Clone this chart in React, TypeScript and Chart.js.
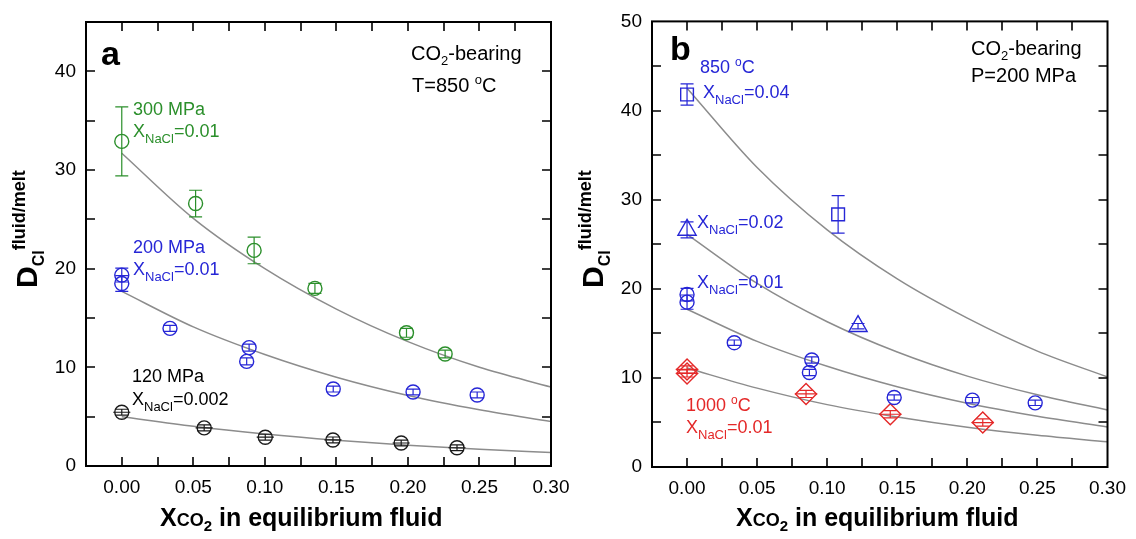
import React, { useEffect, useRef } from 'react';
import { Chart, registerables } from 'chart.js';

Chart.register(...registerables);

const FONT = '"Liberation Sans", Arial, Helvetica, sans-serif';
const GREEN = '#2b8f2b';
const BLUE = '#2626d6';
const RED = '#e42828';
const BLACK = '#1a1a1a';
const CURVE = '#8c8c8c';

// ---- axis ticks ----
const xTickLabels = [0, 0.05, 0.1, 0.15, 0.2, 0.25, 0.3];
const xTickMarks = [0, 0.025, 0.05, 0.075, 0.1, 0.125, 0.15, 0.175, 0.2, 0.225, 0.25, 0.275];
const yTickLabelsA = [0, 10, 20, 30, 40];
const yTickMarksA = [5, 10, 15, 20, 25, 30, 35, 40];
const yTickLabelsB = [0, 10, 20, 30, 40, 50];
const yTickMarksB = [5, 10, 15, 20, 25, 30, 35, 40, 45];

// ---- fitted curves ----
const fitX = [0, 0.05, 0.1, 0.15, 0.2, 0.25, 0.3];
const fitA300 = [31.7, 25.1, 20.0, 15.9, 12.6, 10.0, 8.0];
const fit200 = [17.7, 14.1, 11.3, 9.0, 7.15, 5.7, 4.5];
const fitA120 = [5.0, 4.02, 3.24, 2.61, 2.1, 1.69, 1.36];
const fitB04 = [42.5, 33.6, 26.6, 21.1, 16.7, 13.0, 10.1];
const fitB02 = [26.1, 20.6, 16.3, 12.9, 10.2, 8.1, 6.4];
const fitB1000 = [11.1, 8.85, 7.0, 5.6, 4.45, 3.55, 2.83];

// ---- measured points ----
const p300X = [0, 0.0516, 0.0925, 0.135, 0.199, 0.226];
const p300Y = [32.9, 26.6, 21.85, 18.0, 13.5, 11.35];
const p300Err = [3.5, 1.35, 1.35, 0.5, 0.45, 0.4];

const p200X = [0, 0, 0.0337, 0.089, 0.0873, 0.1478, 0.2036, 0.2484];
const p200Y = [19.35, 18.5, 13.95, 12.0, 10.6, 7.8, 7.5, 7.2];
const p200Err = [0.7, 0.8, 0.3, 0.35, 0.35, 0.3, 0.3, 0.3];

const p120X = [0, 0.0576, 0.1003, 0.1476, 0.1953, 0.2343];
const p120Y = [5.45, 3.86, 2.92, 2.64, 2.33, 1.85];
const p120Err = [0.3, 0.3, 0.3, 0.3, 0.3, 0.3];
const p120ErrX = [0.006, 0.006, 0.006, 0.006, 0.006, 0.006];

const p04X = [0, 0.1078];
const p04Y = [41.8, 28.35];
const p04Err = [1.2, 2.1];

const p02X = [0, 0.122];
const p02Y = [26.6, 15.8];
const p02Err = [0.9, 0.3];

const p1000X = [0, 0, 0.0849, 0.145, 0.211];
const p1000Y = [10.95, 10.5, 8.2, 5.92, 4.99];
const p1000Err = [0.4, 0.4, 0.4, 0.4, 0.4];
const p1000ErrX = [0.008, 0.008, 0.008, 0.008, 0.008];

const pts = (xs: number[], ys: number[]) => xs.map((x, i) => ({ x, y: ys[i] }));

type Seg = { t: string; s: number; b?: boolean; dy?: number };
type TextItem = { x: number; y: number; color: string; segs: Seg[]; rot?: boolean };

function drawRich(ctx: CanvasRenderingContext2D, item: TextItem) {
  ctx.save();
  ctx.fillStyle = item.color;
  ctx.textBaseline = 'alphabetic';
  ctx.textAlign = 'left';
  if (item.rot) {
    ctx.translate(item.x, item.y);
    ctx.rotate(-Math.PI / 2);
  }
  let cx = item.rot ? 0 : item.x;
  const by = item.rot ? 0 : item.y;
  for (const g of item.segs) {
    ctx.font = `${g.b ? 'bold ' : ''}${g.s}px ${FONT}`;
    ctx.fillText(g.t, cx, by + (g.dy || 0));
    cx += ctx.measureText(g.t).width;
  }
  ctx.restore();
}

const xnacl = (v: string): Seg[] => [
  { t: 'X', s: 18 },
  { t: 'NaCl', s: 13, dy: 6 },
  { t: '=' + v, s: 18 },
];
const deg = (v: string): Seg[] => [
  { t: v + ' ', s: 18 },
  { t: 'o', s: 12, dy: -7 },
  { t: 'C', s: 18 },
];

const yTitle = (x: number): TextItem => ({
  x,
  y: 288,
  rot: true,
  color: '#000',
  segs: [
    { t: 'D', s: 30, b: true },
    { t: 'Cl', s: 16, b: true, dy: 7 },
    { t: 'fluid/melt', s: 18, b: true, dy: -12 },
  ],
});
const xTitle = (x: number): TextItem => ({
  x,
  y: 526,
  color: '#000',
  segs: [
    { t: 'X', s: 25, b: true },
    { t: 'CO', s: 18, b: true },
    { t: '2', s: 15, b: true, dy: 5 },
    { t: ' in equilibrium fluid', s: 25, b: true },
  ],
});

const errorBarPlugin = {
  id: 'errbars',
  afterDatasetsDraw(chart: any) {
    const ctx: CanvasRenderingContext2D = chart.ctx;
    const xs = chart.scales.x;
    const ys = chart.scales.y;
    const cw = 6.5;
    chart.data.datasets.forEach((ds: any) => {
      if (!ds.errY && !ds.errX) return;
      ctx.save();
      ctx.strokeStyle = ds.borderColor;
      ctx.lineWidth = 1.2;
      ds.data.forEach((p: any, j: number) => {
        const px = xs.getPixelForValue(p.x);
        const py = ys.getPixelForValue(p.y);
        ctx.beginPath();
        const ey = ds.errY ? ds.errY[j] : 0;
        if (ey) {
          const t = ys.getPixelForValue(p.y + ey);
          const b = ys.getPixelForValue(p.y - ey);
          ctx.moveTo(px, t); ctx.lineTo(px, b);
          ctx.moveTo(px - cw, t); ctx.lineTo(px + cw, t);
          ctx.moveTo(px - cw, b); ctx.lineTo(px + cw, b);
        }
        const ex = ds.errX ? ds.errX[j] : 0;
        if (ex) {
          ctx.moveTo(xs.getPixelForValue(p.x - ex), py);
          ctx.lineTo(xs.getPixelForValue(p.x + ex), py);
        }
        ctx.stroke();
      });
      ctx.restore();
    });
  },
};

const makeFramePlugin = (yMarks: number[], items: TextItem[]) => ({
  id: 'frame',
  afterDraw(chart: any) {
    const ctx: CanvasRenderingContext2D = chart.ctx;
    const { left, right, top, bottom } = chart.chartArea;
    const xs = chart.scales.x;
    const ys = chart.scales.y;
    ctx.save();
    ctx.strokeStyle = '#000';
    ctx.lineWidth = 2;
    ctx.strokeRect(left, top, right - left, bottom - top);
    ctx.lineWidth = 1.6;
    const L = 9;
    ctx.beginPath();
    xTickMarks.forEach((v) => {
      const px = Math.round(xs.getPixelForValue(v));
      ctx.moveTo(px, bottom); ctx.lineTo(px, bottom - L);
      ctx.moveTo(px, top); ctx.lineTo(px, top + L);
    });
    yMarks.forEach((v) => {
      const py = Math.round(ys.getPixelForValue(v));
      ctx.moveTo(left, py); ctx.lineTo(left + L, py);
      ctx.moveTo(right, py); ctx.lineTo(right - L, py);
    });
    ctx.stroke();
    ctx.restore();
    items.forEach((it) => drawRich(ctx, it));
  },
});

const curve = (ys: number[]) => ({
  data: pts(fitX, ys),
  showLine: true,
  borderColor: CURVE,
  borderWidth: 1.5,
  pointRadius: 0,
  cubicInterpolationMode: 'monotone',
  fill: false,
});

const markers = (xs: number[], ys: number[], color: string, style: string, r: number, errY?: number[], errX?: number[]) => ({
  data: pts(xs, ys),
  showLine: false,
  borderColor: color,
  backgroundColor: 'rgba(0,0,0,0)',
  borderWidth: 1.4,
  pointStyle: style,
  pointRadius: r,
  errY,
  errX,
});

function buildConfig(opts: {
  datasets: any[];
  yMax: number;
  yLabels: number[];
  yMarks: number[];
  yAxisW: number;
  padRight: number;
  padTop: number;
  xAxisH: number;
  items: TextItem[];
}) {
  return {
    type: 'scatter',
    data: { datasets: opts.datasets },
    options: {
      animation: false,
      responsive: false,
      layout: { padding: { left: 0, right: opts.padRight, top: opts.padTop, bottom: 0 } },
      plugins: { legend: { display: false }, tooltip: { enabled: false } },
      scales: {
        x: {
          type: 'linear',
          min: -0.025,
          max: 0.3,
          grid: { display: false, drawTicks: false },
          border: { display: false },
          ticks: {
            font: { size: 19, family: FONT },
            color: '#000',
            padding: 10,
            maxRotation: 0,
            autoSkip: false,
            callback: (v: any) => Number(v).toFixed(2),
          },
          afterBuildTicks: (s: any) => {
            s.ticks = xTickLabels.map((v) => ({ value: v }));
          },
          afterFit: (s: any) => {
            s.height = opts.xAxisH;
          },
        },
        y: {
          type: 'linear',
          min: 0,
          max: opts.yMax,
          grid: { display: false, drawTicks: false },
          border: { display: false },
          ticks: {
            font: { size: 19, family: FONT },
            color: '#000',
            padding: 10,
            callback: (v: any) => String(Math.round(Number(v))),
          },
          afterBuildTicks: (s: any) => {
            s.ticks = opts.yLabels.map((v) => ({ value: v }));
          },
          afterFit: (s: any) => {
            s.width = opts.yAxisW;
          },
        },
      },
    },
    plugins: [errorBarPlugin, makeFramePlugin(opts.yMarks, opts.items)],
  } as any;
}

export default function App() {
  const refA = useRef<HTMLCanvasElement>(null);
  const refB = useRef<HTMLCanvasElement>(null);

  useEffect(() => {
    const itemsA: TextItem[] = [
      { x: 101, y: 65, color: '#000', segs: [{ t: 'a', s: 34, b: true }] },
      { x: 411, y: 60, color: '#000', segs: [{ t: 'CO', s: 20 }, { t: '2', s: 13, dy: 5 }, { t: '-bearing', s: 20 }] },
      { x: 412, y: 92, color: '#000', segs: [{ t: 'T=850 ', s: 20 }, { t: 'o', s: 13, dy: -8 }, { t: 'C', s: 20 }] },
      { x: 133, y: 115, color: GREEN, segs: [{ t: '300 MPa', s: 18 }] },
      { x: 133, y: 137, color: GREEN, segs: xnacl('0.01') },
      { x: 133, y: 253, color: BLUE, segs: [{ t: '200 MPa', s: 18 }] },
      { x: 133, y: 275, color: BLUE, segs: xnacl('0.01') },
      { x: 132, y: 382, color: '#000', segs: [{ t: '120 MPa', s: 18 }] },
      { x: 132, y: 405, color: '#000', segs: xnacl('0.002') },
      yTitle(37),
      xTitle(160),
    ];
    const itemsB: TextItem[] = [
      { x: 110, y: 60, color: '#000', segs: [{ t: 'b', s: 34, b: true }] },
      { x: 411, y: 55, color: '#000', segs: [{ t: 'CO', s: 20 }, { t: '2', s: 13, dy: 5 }, { t: '-bearing', s: 20 }] },
      { x: 411, y: 82, color: '#000', segs: [{ t: 'P=200 MPa', s: 20 }] },
      { x: 140, y: 73, color: BLUE, segs: deg('850') },
      { x: 143, y: 98, color: BLUE, segs: xnacl('0.04') },
      { x: 137, y: 228, color: BLUE, segs: xnacl('0.02') },
      { x: 137, y: 288, color: BLUE, segs: xnacl('0.01') },
      { x: 126, y: 411, color: RED, segs: deg('1000') },
      { x: 126, y: 433, color: RED, segs: xnacl('0.01') },
      yTitle(43),
      xTitle(176),
    ];

    const cfgA = buildConfig({
      datasets: [
        markers(p300X, p300Y, GREEN, 'circle', 7, p300Err),
        markers(p200X, p200Y, BLUE, 'circle', 7, p200Err),
        markers(p120X, p120Y, BLACK, 'circle', 7, p120Err, p120ErrX),
        curve(fitA300),
        curve(fit200),
        curve(fitA120),
      ],
      yMax: 45,
      yLabels: yTickLabelsA,
      yMarks: yTickMarksA,
      yAxisW: 86,
      padRight: 49,
      padTop: 22,
      xAxisH: 73,
      items: itemsA,
    });
    const cfgB = buildConfig({
      datasets: [
        markers(p04X, p04Y, BLUE, 'rect', 9, p04Err),
        markers(p02X, p02Y, BLUE, 'triangle', 10.5, p02Err),
        markers(p200X, p200Y, BLUE, 'circle', 7, p200Err),
        markers(p1000X, p1000Y, RED, 'rectRot', 10.5, p1000Err, p1000ErrX),
        curve(fitB04),
        curve(fitB02),
        curve(fit200),
        curve(fitB1000),
      ],
      yMax: 50,
      yLabels: yTickLabelsB,
      yMarks: yTickMarksB,
      yAxisW: 92,
      padRight: 21,
      padTop: 19,
      xAxisH: 72,
      items: itemsB,
    });

    const a = new Chart(refA.current as HTMLCanvasElement, cfgA);
    const b = new Chart(refB.current as HTMLCanvasElement, cfgB);
    return () => {
      a.destroy();
      b.destroy();
    };
  }, []);

  return (
    <div style={{ position: 'absolute', left: 0, top: 0, width: 1136, height: 539, background: '#fff', overflow: 'hidden' }}>
      <canvas ref={refA} width={600} height={539} style={{ position: 'absolute', left: 0, top: 0 }} />
      <canvas ref={refB} width={576} height={539} style={{ position: 'absolute', left: 560, top: 0 }} />
    </div>
  );
}
